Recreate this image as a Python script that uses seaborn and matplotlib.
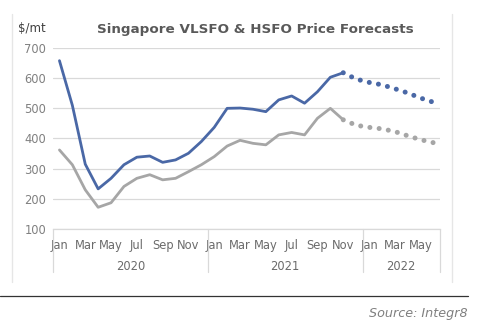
import matplotlib
matplotlib.use("Agg")
import matplotlib.pyplot as plt
from matplotlib.lines import Line2D
import seaborn as sns
import pandas as pd
import numpy as np

months = ["Jan", "Feb", "Mar", "Apr", "May", "Jun", "Jul", "Aug", "Sep", "Oct", "Nov", "Dec"] * 2 + \
         ["Jan", "Feb", "Mar", "Apr", "May", "Jun"]
years = ["2020"] * 12 + ["2021"] * 12 + ["2022"] * 6

# actual prices (Jan 2020 - Nov 2021)
vlsfo_actual = [658, 510, 315, 233, 268, 313, 338, 342, 321, 329, 351, 390,
                437, 500, 501, 497, 489, 528, 541, 517, 555, 603, 618]
hsfo_actual = [362, 313, 230, 172, 187, 241, 268, 280, 263, 268, 290, 313,
               340, 375, 394, 384, 379, 412, 420, 412, 467, 500, 462]
# forecasts (Nov 2021 - Jun 2022)
vlsfo_fc = [618, 597, 586, 578, 565, 551, 534, 520]
hsfo_fc = [462, 444, 437, 432, 423, 409, 396, 386]

BLUE = "#4a68a6"
GREY = "#a6a6a6"

n_act = len(vlsfo_actual)
idx_act = np.arange(n_act)
idx_fc = np.arange(n_act - 1, n_act - 1 + len(vlsfo_fc))

df_act = pd.DataFrame({"x": np.concatenate([idx_act, idx_act]),
                       "price": vlsfo_actual + hsfo_actual,
                       "fuel": ["VLSFO"] * n_act + ["HSFO"] * n_act})
df_fc = pd.DataFrame({"x": np.concatenate([idx_fc, idx_fc]),
                      "price": vlsfo_fc + hsfo_fc,
                      "fuel": ["VLSFO"] * len(vlsfo_fc) + ["HSFO"] * len(hsfo_fc)})

sns.set_theme(style="white")
plt.rcParams["font.family"] = ["DejaVu Sans"]

fig = plt.figure(figsize=(4.8, 3.29), dpi=100)
ax = fig.add_axes([53 / 480, 1 - 229 / 329, 387 / 480, 181 / 329])

palette = {"VLSFO": BLUE, "HSFO": GREY}
sns.lineplot(data=df_act, x="x", y="price", hue="fuel", palette=palette,
             linewidth=2.0, legend=False, ax=ax, estimator=None, sort=False)
sns.lineplot(data=df_fc, x="x", y="price", hue="fuel", palette=palette,
             linewidth=3.6, legend=False, ax=ax, estimator=None, sort=False)
for ln in ax.lines[2:]:
    ln.set_linestyle((0, (0.01, 1.85)))
    ln.set_dash_capstyle("round")
for ln in ax.lines[:2]:
    ln.set_solid_capstyle("round")
    ln.set_solid_joinstyle("round")

ax.set_xlim(-0.5, len(months) - 0.5)
ax.set_ylim(100, 700)
ax.set_yticks(range(100, 701, 100))
ax.yaxis.grid(True, color="#d9d9d9", linewidth=0.9)
ax.xaxis.grid(False)
for s in ["top", "right", "left"]:
    ax.spines[s].set_visible(False)
ax.spines["bottom"].set_color("#d9d9d9")
ax.spines["bottom"].set_linewidth(0.9)
ax.set_xlabel("")
ax.set_ylabel("")

ax.set_xticks(range(0, len(months), 2))
ax.set_xticklabels(months[::2])
ax.tick_params(axis="x", length=0, pad=7, labelsize=8.3, labelcolor="#6b6b6b")
ax.tick_params(axis="y", length=0, pad=5, labelsize=8.3, labelcolor="#808080")

# year group labels and separators
trans = ax.get_xaxis_transform()
yr_names = []
for y in years:
    if y not in yr_names:
        yr_names.append(y)
bounds = [-0.5]
for y in yr_names:
    cnt = years.count(y)
    start = bounds[-1]
    ax.text(start + cnt / 2, -0.205, y, transform=trans, ha="center", va="center",
            fontsize=8.3, color="#6b6b6b")
    bounds.append(start + cnt)
for b in bounds:
    ax.axvline(b, ymin=-0.24, ymax=0, color="#d9d9d9", linewidth=0.9, clip_on=False)

fig.text(255 / 480, 1 - 29 / 329, "Singapore VLSFO & HSFO Price Forecasts",
         ha="center", va="center", fontsize=9.7, fontweight="bold", color="#595959")
fig.text(18 / 480, 1 - 29 / 329, "$/mt", ha="left", va="center",
         fontsize=8.5, color="#404040")

# chart frame and rule
fig.add_artist(Line2D([12 / 480, 12 / 480], [1 - 282 / 329, 1 - 14 / 329],
                      transform=fig.transFigure, color="#e6e6e6", linewidth=1))
fig.add_artist(Line2D([452 / 480, 452 / 480], [1 - 282 / 329, 1 - 14 / 329],
                      transform=fig.transFigure, color="#e6e6e6", linewidth=1))
fig.add_artist(Line2D([0, 468 / 480], [1 - 296 / 329, 1 - 296 / 329],
                      transform=fig.transFigure, color="#333333", linewidth=0.9))

fig.text(468 / 480, 1 - 314 / 329, "Source: Integr8", ha="right", va="center",
         fontsize=9.2, style="italic", color="#808080")

fig.savefig("out.png", dpi=100, facecolor="white")
